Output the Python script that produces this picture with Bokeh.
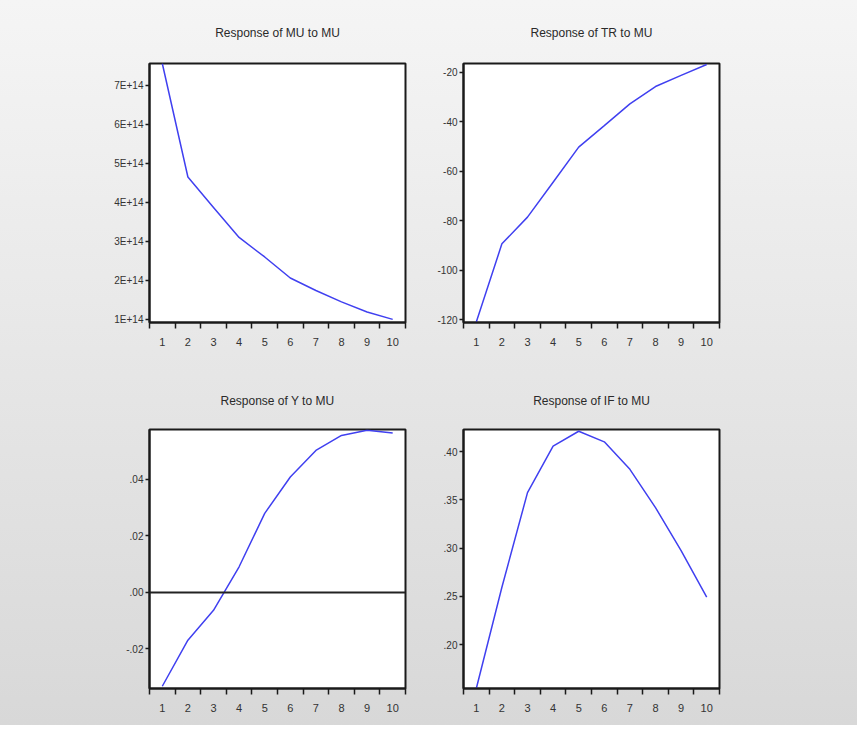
from bokeh.plotting import figure
from bokeh.layouts import gridplot
from bokeh.models import FixedTicker, Span, Range1d, Title
from bokeh.embed import file_html
from bokeh.resources import INLINE

periods = [1, 2, 3, 4, 5, 6, 7, 8, 9, 10]

mu_to_mu = [7.56e14, 4.65e14, 3.87e14, 3.10e14, 2.60e14, 2.06e14, 1.74e14, 1.45e14, 1.19e14, 1.00e14]
tr_to_mu = [-121.0, -89.4, -78.6, -64.5, -50.3, -41.6, -32.8, -25.8, -21.3, -16.9]
y_to_mu = [-0.0332, -0.0169, -0.0063, 0.0091, 0.0280, 0.0409, 0.0503, 0.0556, 0.0574, 0.0565]
if_to_mu = [0.1545, 0.2595, 0.3576, 0.4059, 0.4213, 0.4103, 0.3818, 0.3421, 0.2974, 0.2492]

titles = ["Response of MU to MU", "Response of TR to MU", "Response of Y to MU", "Response of IF to MU"]

mu_ticks = [1e14, 2e14, 3e14, 4e14, 5e14, 6e14, 7e14]
mu_labels = ["1E+14", "2E+14", "3E+14", "4E+14", "5E+14", "6E+14", "7E+14"]
tr_ticks = [-120, -100, -80, -60, -40, -20]
tr_labels = ["-120", "-100", "-80", "-60", "-40", "-20"]
y_ticks = [-0.02, 0.0, 0.02, 0.04]
y_labels = ["-.02", ".00", ".02", ".04"]
if_ticks = [0.20, 0.25, 0.30, 0.35, 0.40]
if_labels = [".20", ".25", ".30", ".35", ".40"]

FONT = "Liberation Sans Narrow, Arial Narrow, Liberation Sans, sans-serif"
LINE = "#4040f0"


def panel(title, values, yr, ticks, labels, w, h, bl, br, bt, bb, so, zero=False):
    p = figure(width=w, height=h, output_backend="svg", toolbar_location=None,
               x_range=Range1d(0.5, 10.5), y_range=Range1d(*yr),
               min_border_left=bl, min_border_right=br, min_border_top=bt, min_border_bottom=bb)
    p.title = Title(text=title, align="center", text_font=FONT, text_font_size="12px",
                    text_font_style="normal", text_color="#2a2a2a", standoff=so,
                    vertical_align="top")
    p.background_fill_color = "white"
    p.border_fill_alpha = 0
    p.outline_line_color = "#1a1a1a"
    p.outline_line_width = 2
    p.grid.visible = False
    if zero:
        p.add_layout(Span(location=0, dimension="width", line_color="#222222", line_width=2))
    p.line(periods, values, line_color=LINE, line_width=1.5)

    xa = p.xaxis[0]
    xa.ticker = FixedTicker(ticks=periods, minor_ticks=[i + 0.5 for i in range(0, 11)])
    xa.major_tick_line_color = None
    xa.minor_tick_line_color = "#1a1a1a"
    xa.minor_tick_line_width = 1.5
    xa.minor_tick_out = 6
    xa.minor_tick_in = 0
    xa.axis_line_color = "#1a1a1a"
    xa.axis_line_width = 2
    xa.major_label_text_font = FONT
    xa.major_label_text_font_size = "11px"
    xa.major_label_text_color = "#333333"
    xa.major_label_standoff = 9

    ya = p.yaxis[0]
    ya.ticker = FixedTicker(ticks=ticks, minor_ticks=[])
    ya.major_label_overrides = {t: l for t, l in zip(ticks, labels)}
    ya.major_tick_line_color = "#1a1a1a"
    ya.major_tick_line_width = 1.5
    ya.major_tick_out = 4
    ya.major_tick_in = 0
    ya.axis_line_color = "#1a1a1a"
    ya.axis_line_width = 2
    ya.major_label_text_font = FONT
    ya.major_label_text_font_size = "10px"
    ya.major_label_text_color = "#333333"
    ya.major_label_standoff = 2
    return p


p1 = panel(titles[0], mu_to_mu, (0.92e14, 7.56e14), mu_ticks, mu_labels, 434, 370, 148, 29, 62, 48, 44)
p2 = panel(titles[1], tr_to_mu, (-121.2, -16.5), tr_ticks, tr_labels, 423, 370, 29, 138, 63, 48, 44)
p3 = panel(titles[2], y_to_mu, (-0.034, 0.0577), y_ticks, y_labels, 434, 355, 149, 29, 59, 37, 40, zero=True)
p4 = panel(titles[3], if_to_mu, (0.1545, 0.4231), if_ticks, if_labels, 423, 355, 29, 138, 58, 37, 40)

grid = gridplot([[p1, p2], [p3, p4]], toolbar_location=None)
grid.styles = {"background": "linear-gradient(to bottom, #f5f5f5, #d8d8d8)"}

open("out.html", "w").write(file_html(grid, INLINE))
